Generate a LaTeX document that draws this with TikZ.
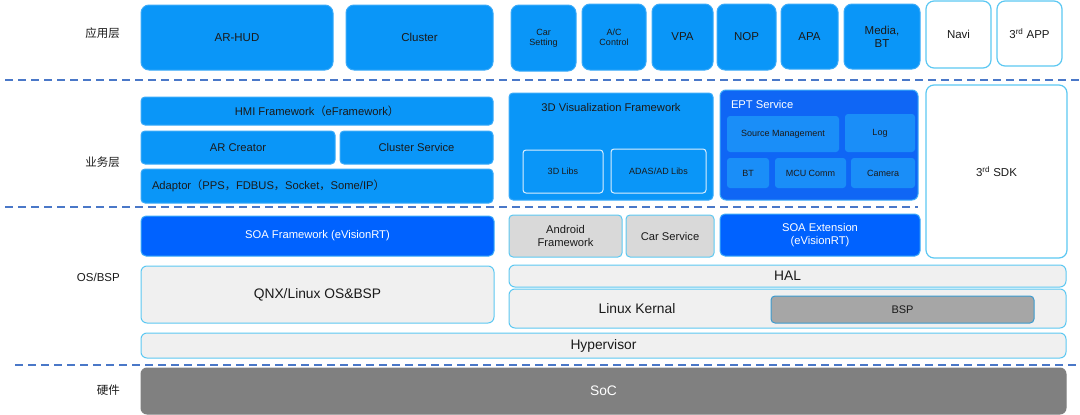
\documentclass[tikz,border=0pt]{standalone}
\usepackage{fontspec}
\setmainfont{Liberation Sans}
\newfontfamily\cjk{Noto Sans CJK SC}
\definecolor{appblue}{HTML}{0A96F8}
\definecolor{appedge}{HTML}{3AAAF8}
\definecolor{eptblue}{HTML}{0F66F5}
\definecolor{innerblue}{HTML}{1A8EF8}
\definecolor{soablue}{HTML}{0062FF}
\definecolor{ltedge}{HTML}{5CC8F2}
\definecolor{ltfill}{HTML}{F0F0F0}
\definecolor{grayfill}{HTML}{D9D9D9}
\definecolor{bspfill}{HTML}{A6A6A6}
\definecolor{bspedge}{HTML}{3A9BD0}
\definecolor{socfill}{HTML}{808080}
\definecolor{dashcol}{HTML}{4A78C8}
\definecolor{txt}{HTML}{1A1A1A}
\newcommand\fs[1]{\fontsize{#1}{\fpeval{round(#1*1.15,2)}}\selectfont}
\newcommand\bx[7]{\node[#1, anchor=north west, minimum width={#5-#3}, minimum height={#6-#4}] (#2) at (#3,#4) {#7};}
\tikzset{
  base/.style={inner sep=0pt, outer sep=0pt, align=center, text=txt, line width=1pt},
  app/.style={base, fill=appblue, draw=appedge, rounded corners=8pt, font=\fs{11.5}},
  appsm/.style={app, font=\fs{9}},
  wapp/.style={base, fill=white, draw=ltedge, rounded corners=8pt, font=\fs{11.5}, line width=1.2pt},
  mid/.style={base, fill=appblue, draw=appedge, rounded corners=4pt, font=\fs{11.2}},
  lib/.style={base, fill=appblue, draw=white!85!appblue, rounded corners=3pt, font=\fs{9}},
  ept/.style={base, fill=eptblue, draw=appedge, rounded corners=6pt},
  inner/.style={base, fill=innerblue, draw=none, rounded corners=3pt, font=\fs{9}},
  soa/.style={base, fill=soablue, draw=appedge, rounded corners=5pt, text=white, font=\fs{11.2}},
  gray/.style={base, fill=grayfill, draw=ltedge, rounded corners=4pt, font=\fs{11.2}},
  os/.style={base, fill=ltfill, draw=ltedge, rounded corners=6pt, font=\fs{13.8}},
  bspbox/.style={base, fill=bspfill, draw=bspedge, rounded corners=4pt, font=\fs{11}},
  socbox/.style={base, fill=socfill, draw=socfill, rounded corners=6pt, text=white, font=\fs{13.8}},
  sep/.style={draw=dashcol, line width=1.6pt, dash pattern=on 8pt off 5pt},
  layer/.style={inner sep=0pt, anchor=east, text=txt, font=\fs{11.5}}
}
\begin{document}
\begin{tikzpicture}[x=1pt, y=-1pt]
\useasboundingbox (0,0) rectangle (1080,415);
% layer labels
\node[layer] (l1) at (120,33) {\cjk 应用层};
\node[layer] (l2) at (120,162) {\cjk 业务层};
\node[layer] (l3) at (120,277) {OS/BSP};
\node[layer] (l4) at (120,390) {\cjk 硬件};
% separators
\coordinate (s1a) at (5,80);   \coordinate (s1b) at (1080,80);
\coordinate (s2a) at (5,207);  \coordinate (s2b) at (918,207);
\coordinate (s3a) at (15,365); \coordinate (s3b) at (1080,365);
\draw[sep] (s1a) -- (s1b);
\draw[sep] (s2a) -- (s2b);
\draw[sep] (s3a) -- (s3b);
% application layer
\bx{app}{arhud}{141}{5}{333}{70}{AR-HUD}
\bx{app}{cluster}{346}{5}{493}{70}{Cluster}
\bx{appsm}{carset}{511}{5}{576}{71}{Car\\Setting}
\bx{appsm}{ac}{582}{4}{646}{70}{A/C\\Control}
\bx{app}{vpa}{652}{4}{713}{70}{VPA}
\bx{app}{nop}{717}{4}{776}{70}{NOP}
\bx{app}{apa}{781}{4}{838}{69}{APA}
\bx{app}{media}{844}{4}{920}{69}{Media,\\BT}
\bx{wapp}{navi}{926}{1}{991}{68}{Navi}
\bx{wapp}{app3}{997}{1}{1062}{66}{3\textsuperscript{rd} APP}
% business layer
\bx{mid}{hmi}{141}{97}{493}{125}{HMI Framework{\cjk （}eFramework{\cjk ）}}
\bx{mid}{arcreator}{141}{131}{335}{164}{AR Creator}
\bx{mid}{clsvc}{340}{131}{493}{164}{Cluster Service}
\bx{mid}{adaptor}{141}{169}{493}{203}{}
\node[base, anchor=west, font=\fs{11.2}] (adtext) at (152,186) {Adaptor{\cjk （}PPS{\cjk ，}FDBUS{\cjk ，}Socket{\cjk ，}Some/IP{\cjk ）}};
\bx{mid}{vis}{509}{93}{713}{200}{}
\node[base, font=\fs{11.2}] (vistitle) at (611,107) {3D Visualization Framework};
\bx{lib}{libs3d}{523}{150}{603}{193}{3D Libs}
\bx{lib}{adas}{611}{149}{706}{193}{ADAS/AD Libs}
\bx{ept}{ept}{720}{90}{918}{200}{}
\node[base, anchor=west, text=white, font=\fs{11.2}] (epttitle) at (731,104) {EPT Service};
\bx{inner}{src}{727}{116}{839}{152}{Source Management}
\bx{inner}{log}{845}{114}{915}{152}{Log}
\bx{inner}{bt}{727}{158}{769}{188}{BT}
\bx{inner}{mcu}{775}{158}{846}{188}{MCU Comm}
\bx{inner}{cam}{851}{158}{915}{188}{Camera}
\bx{wapp}{sdk}{926}{85}{1067}{258}{3\textsuperscript{rd} SDK}
% OS/BSP layer
\bx{soa}{soafw}{141}{216}{494}{256}{SOA Framework (eVisionRT)}
\bx{gray}{android}{509}{215}{622}{257}{Android\\Framework}
\bx{gray}{carsvc}{626}{215}{714}{257}{Car Service}
\bx{soa}{soaext}{720}{214}{920}{256}{SOA Extension\\(eVisionRT)}
\bx{os}{qnx}{141}{266}{494}{323}{QNX/Linux OS\&BSP}
\bx{os}{hal}{509}{265}{1066}{287}{HAL}
\bx{os}{kernel}{509}{289}{1066}{328}{}
\node[base, font=\fs{13.8}] (kertext) at (637,309) {Linux Kernal};
\bx{bspbox}{bsp}{771}{296}{1034}{323}{BSP}
\bx{os}{hyper}{141}{333}{1066}{358}{Hypervisor}
% hardware
\bx{socbox}{soc}{141}{368}{1066}{414}{SoC}
\end{tikzpicture}
\end{document}
